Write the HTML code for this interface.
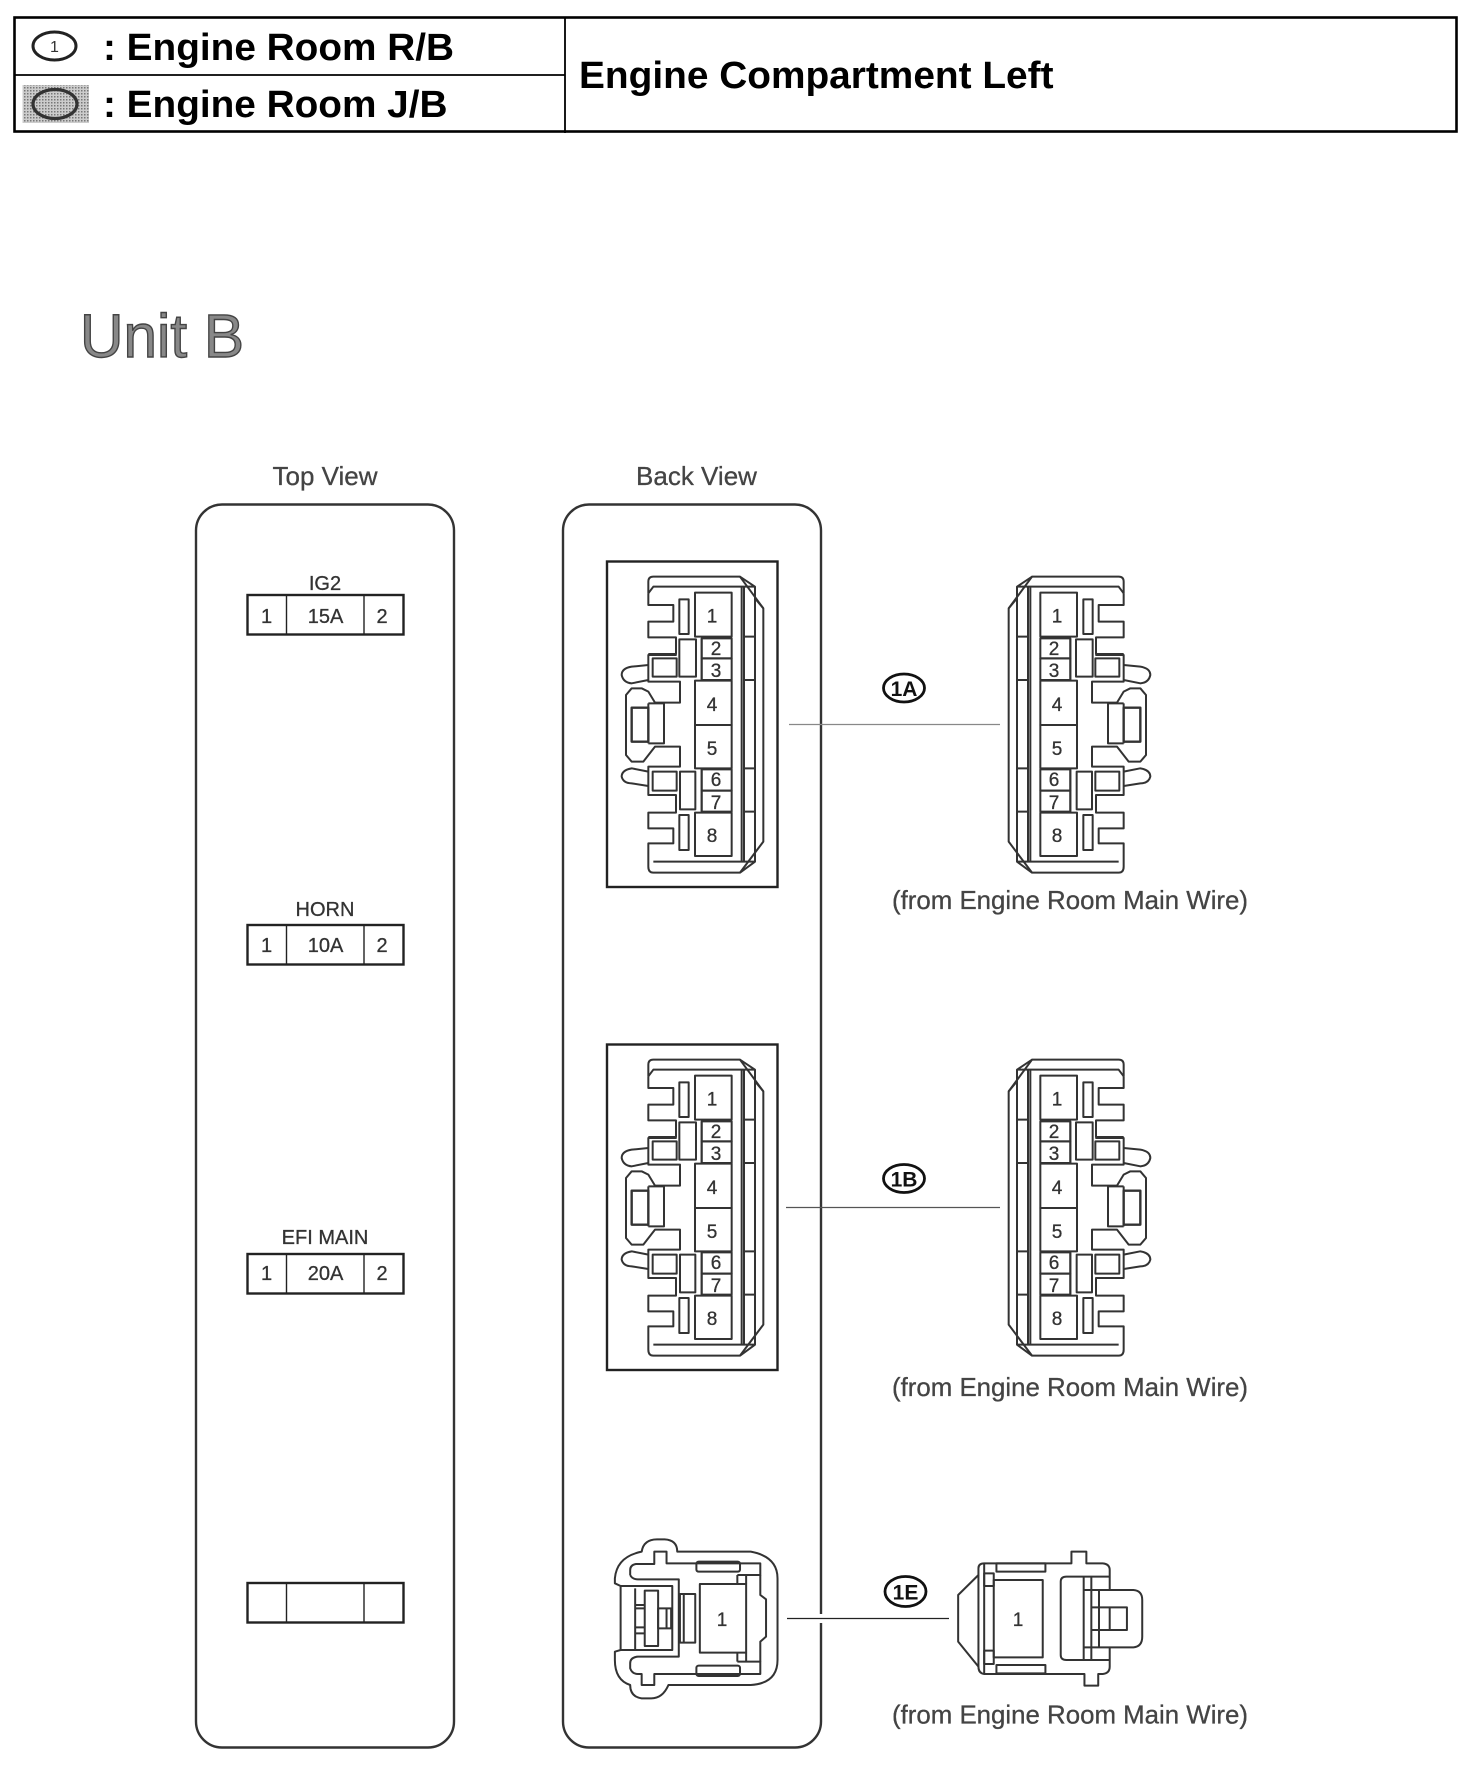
<!DOCTYPE html>
<html><head><meta charset="utf-8"><style>
html,body{margin:0;padding:0;background:#fff}
svg{display:block}
text{font-family:"Liberation Sans",sans-serif}
.l{fill:none;stroke:#333;stroke-width:2;stroke-linejoin:round}
.l *{vector-effect:non-scaling-stroke}
.t{fill:#444;font-size:26px;stroke:#444;stroke-width:.3}
.p{fill:#333;font-size:19px;text-anchor:middle;stroke:#333;stroke-width:.3}
.b{fill:#000;font-weight:bold}
</style></head><body>
<svg width="1472" height="1778" viewBox="0 0 1472 1778" xmlns="http://www.w3.org/2000/svg">
<defs>
<pattern id="dots" width="3" height="3" patternUnits="userSpaceOnUse"><rect width="3" height="3" fill="#ccc"/><rect width="1.5" height="1.5" fill="#777"/></pattern>
<g id="conn" class="l">
<path d="M175,160V125Q175,110 190,110H450L520,205V905L450,998H190Q175,998 175,980V910H250V865H175V818H258V765H175V680H270V620H195L160,665H125L108,645V465L125,445H155L175,455L195,488H270V425H175V345H260"/>
<path d="M175,160V195H250V245H175V292H258V342H175"/>
<path d="M175,160L190,140H495L450,110M495,140V175M190,965H495L450,998M495,965V175L520,205M455,140V965M462,140V965"/>
<path d="M462,290H495M462,420H495M462,685H495M462,815H495"/>
<rect x="315" y="158" width="110" height="132"/><rect x="335" y="295" width="90" height="60"/><rect x="335" y="355" width="90" height="65"/>
<rect x="315" y="422" width="110" height="133"/><rect x="315" y="555" width="110" height="130"/><rect x="335" y="688" width="90" height="64"/>
<rect x="335" y="752" width="90" height="63"/><rect x="315" y="818" width="110" height="130"/>
<rect x="268" y="178" width="28" height="104"/><rect x="268" y="825" width="28" height="105"/><rect x="268" y="298" width="50" height="112"/><rect x="270" y="695" width="46" height="113"/>
<rect x="188" y="355" width="72" height="55"/><rect x="188" y="695" width="72" height="57"/>
<path d="M175,375L125,380Q95,385 95,405Q100,428 125,430L175,420M175,695L125,685Q95,690 95,710Q100,730 125,730L175,738"/>
<rect x="125" y="503" width="50" height="102" stroke-width="2.4"/><path d="M175,490H222V610H175M175,490V503M175,605V610"/>
<path d="M335,295V420M335,688V815"/>
</g>
<g id="ea" class="l">
<path d="M135,95Q140,58 175,58H195Q228,60 228,95H420Q490,110 490,175V420Q490,490 420,495H205Q190,535 160,535H135Q105,530 105,495Q65,480 65,420V395L80,390V198L65,190V175Q70,110 135,95Z"/>
<path d="M105,165V150Q105,135 120,132H168V95H200V130H445V165H385M105,165Q110,178 125,178H232V410H125Q105,412 105,430V445Q110,462 125,462H135V495H168V462H445V425H385"/>
<path d="M445,165L445,225L460,238V350L445,365V425M408,165V192M408,398V425M385,165V192M385,398V425"/>
<rect x="287" y="192" width="121" height="206"/><rect x="278" y="125" width="114" height="30" rx="6"/><rect x="278" y="437" width="114" height="31" rx="6"/>
<rect x="235" y="222" width="40" height="146"/><path d="M245,222V368M80,198H215V390H80M118,205V390"/>
<rect x="143" y="212" width="35" height="166"/><path d="M118,255H143M118,265H143M118,322H143M118,340H143"/>
<rect x="178" y="265" width="34" height="60"/><path d="M200,265V325"/>
</g>
<g id="eb" class="l">
<path d="M1015,165V145Q1015,130 1030,130H1258V95H1297V130H1340Q1358,132 1358,150V210H1420Q1443,212 1443,240V350Q1443,380 1420,382H1358V440Q1358,460 1340,462H1328V497H1292V462H1030Q1015,460 1015,440L962,365V225L1015,165Z"/>
<path d="M1015,165V440M1030,130V460"/>
<rect x="1030" y="160" width="25" height="38"/><rect x="1030" y="392" width="25" height="40"/>
<rect x="1062" y="130" width="128" height="25"/><rect x="1062" y="435" width="128" height="25"/>
<rect x="1055" y="180" width="128" height="232"/>
<path d="M1358,170H1245Q1230,170 1230,185V405Q1230,420 1245,420H1358M1290,170V420M1310,170V420M1330,210V382M1290,210H1358M1290,382H1358M1310,262H1358M1310,330H1358"/>
<rect x="1358" y="262" width="45" height="68"/>
</g>
</defs>

<!-- header -->
<rect x="14.5" y="17.5" width="1442" height="114" fill="none" stroke="#000" stroke-width="2.6"/>
<path d="M14,75H565M565,17V133" stroke="#000" stroke-width="1.8" fill="none"/>
<ellipse cx="54.5" cy="46" rx="21.5" ry="14" fill="none" stroke="#222" stroke-width="3"/>
<text x="54.5" y="52" text-anchor="middle" fill="#333" font-size="16">1</text>
<rect x="22.5" y="85" width="66.5" height="38" fill="url(#dots)"/>
<ellipse cx="55" cy="104" rx="22" ry="14.5" fill="url(#dots)" stroke="#333" stroke-width="3.2"/>
<text class="b" x="103" y="60" font-size="38" textLength="351" lengthAdjust="spacingAndGlyphs">: Engine Room R/B</text>
<text class="b" x="103" y="117" font-size="38" textLength="344.5" lengthAdjust="spacingAndGlyphs">: Engine Room J/B</text>
<text class="b" x="579" y="88" font-size="38" textLength="474.5" lengthAdjust="spacingAndGlyphs">Engine Compartment Left</text>

<text x="80" y="357" font-size="61" fill="#888" stroke="#444" stroke-width="1.4" textLength="164" lengthAdjust="spacingAndGlyphs">Unit B</text>

<text class="t" x="325" y="485" text-anchor="middle">Top View</text>
<text class="t" x="696.5" y="485" text-anchor="middle">Back View</text>

<rect x="196" y="504.5" width="258" height="1243" rx="26" fill="none" stroke="#333" stroke-width="2.4"/>
<rect x="563" y="504.5" width="258" height="1243" rx="26" fill="none" stroke="#333" stroke-width="2.4"/>

<!-- fuses -->
<g fill="none" stroke="#222" stroke-width="2.4">
<rect x="247.5" y="595" width="156" height="39.5"/><path d="M286.5,595v40M364,595v40" stroke-width="1.4"/>
<rect x="247.5" y="925" width="156" height="39.5"/><path d="M286.5,925v40M364,925v40" stroke-width="1.4"/>
<rect x="247.5" y="1254" width="156" height="39.5"/><path d="M286.5,1254v40M364,1254v40" stroke-width="1.4"/>
<rect x="247.5" y="1583" width="156" height="39.5"/><path d="M286.5,1583v40M364,1583v40" stroke-width="1.4"/>
</g>
<g font-size="20" fill="#333" text-anchor="middle" stroke="#333" stroke-width=".3">
<text x="325" y="590">IG2</text><text x="266.5" y="623">1</text><text x="325.5" y="623">15A</text><text x="382" y="623">2</text>
<text x="325" y="916">HORN</text><text x="266.5" y="952">1</text><text x="325.5" y="952">10A</text><text x="382" y="952">2</text>
<text x="325" y="1244">EFI MAIN</text><text x="266.5" y="1280">1</text><text x="325.5" y="1280">20A</text><text x="382" y="1280">2</text>
</g>

<!-- connector frames -->
<rect x="607" y="561.5" width="170.5" height="325.5" fill="none" stroke="#222" stroke-width="2.4"/>
<rect x="607" y="1044.5" width="170.5" height="325.5" fill="none" stroke="#222" stroke-width="2.4"/>

<use href="#conn" transform="translate(590,540) scale(.33333)"/>
<use href="#conn" transform="translate(1182,540) scale(-.33333,.33333)"/>
<use href="#conn" transform="translate(590,1023) scale(.33333)"/>
<use href="#conn" transform="translate(1182,1023) scale(-.33333,.33333)"/>

<g class="p">
<text x="712" y="622.5">1</text><text x="716" y="655">2</text><text x="716" y="677">3</text><text x="712" y="711">4</text><text x="712" y="755">5</text><text x="716" y="786">6</text><text x="716" y="809">7</text><text x="712" y="842">8</text>
<text x="1057" y="622.5">1</text><text x="1054" y="655">2</text><text x="1054" y="677">3</text><text x="1057" y="711">4</text><text x="1057" y="755">5</text><text x="1054" y="786">6</text><text x="1054" y="809">7</text><text x="1057" y="842">8</text>
<text x="712" y="1105.5">1</text><text x="716" y="1138">2</text><text x="716" y="1160">3</text><text x="712" y="1194">4</text><text x="712" y="1238">5</text><text x="716" y="1269">6</text><text x="716" y="1292">7</text><text x="712" y="1325">8</text>
<text x="1057" y="1105.5">1</text><text x="1054" y="1138">2</text><text x="1054" y="1160">3</text><text x="1057" y="1194">4</text><text x="1057" y="1238">5</text><text x="1054" y="1269">6</text><text x="1054" y="1292">7</text><text x="1057" y="1325">8</text>
</g>

<use href="#ea" transform="translate(590,1520) scale(.3827,.33333)"/>
<use href="#eb" transform="translate(590,1520) scale(.3827,.33333)"/>
<text class="p" x="722" y="1626">1</text>
<text class="p" x="1018" y="1626">1</text>

<!-- leader lines -->
<path d="M789,724.5H1000" stroke="#888" stroke-width="1.2"/>
<path d="M786,1207.5H1000" stroke="#555" stroke-width="1.2"/>
<rect x="818" y="1614" width="7" height="9" fill="#fff"/>
<path d="M787,1618.5H949" stroke="#222" stroke-width="1.3"/>

<g fill="none" stroke="#111" stroke-width="2.8">
<ellipse cx="904" cy="688" rx="20.5" ry="14"/><ellipse cx="904" cy="1178.5" rx="20.5" ry="14"/><ellipse cx="905.5" cy="1591.5" rx="20.5" ry="15"/>
</g>
<g font-size="21" fill="#111" text-anchor="middle" font-weight="bold">
<text x="904" y="696">1A</text><text x="904" y="1186.5">1B</text><text x="905.5" y="1599.5">1E</text>
</g>

<text class="t" x="892" y="909" textLength="356" lengthAdjust="spacingAndGlyphs">(from Engine Room Main Wire)</text>
<text class="t" x="892" y="1396" textLength="356" lengthAdjust="spacingAndGlyphs">(from Engine Room Main Wire)</text>
<text class="t" x="892" y="1723.5" textLength="356" lengthAdjust="spacingAndGlyphs">(from Engine Room Main Wire)</text>
</svg>
</body></html>
